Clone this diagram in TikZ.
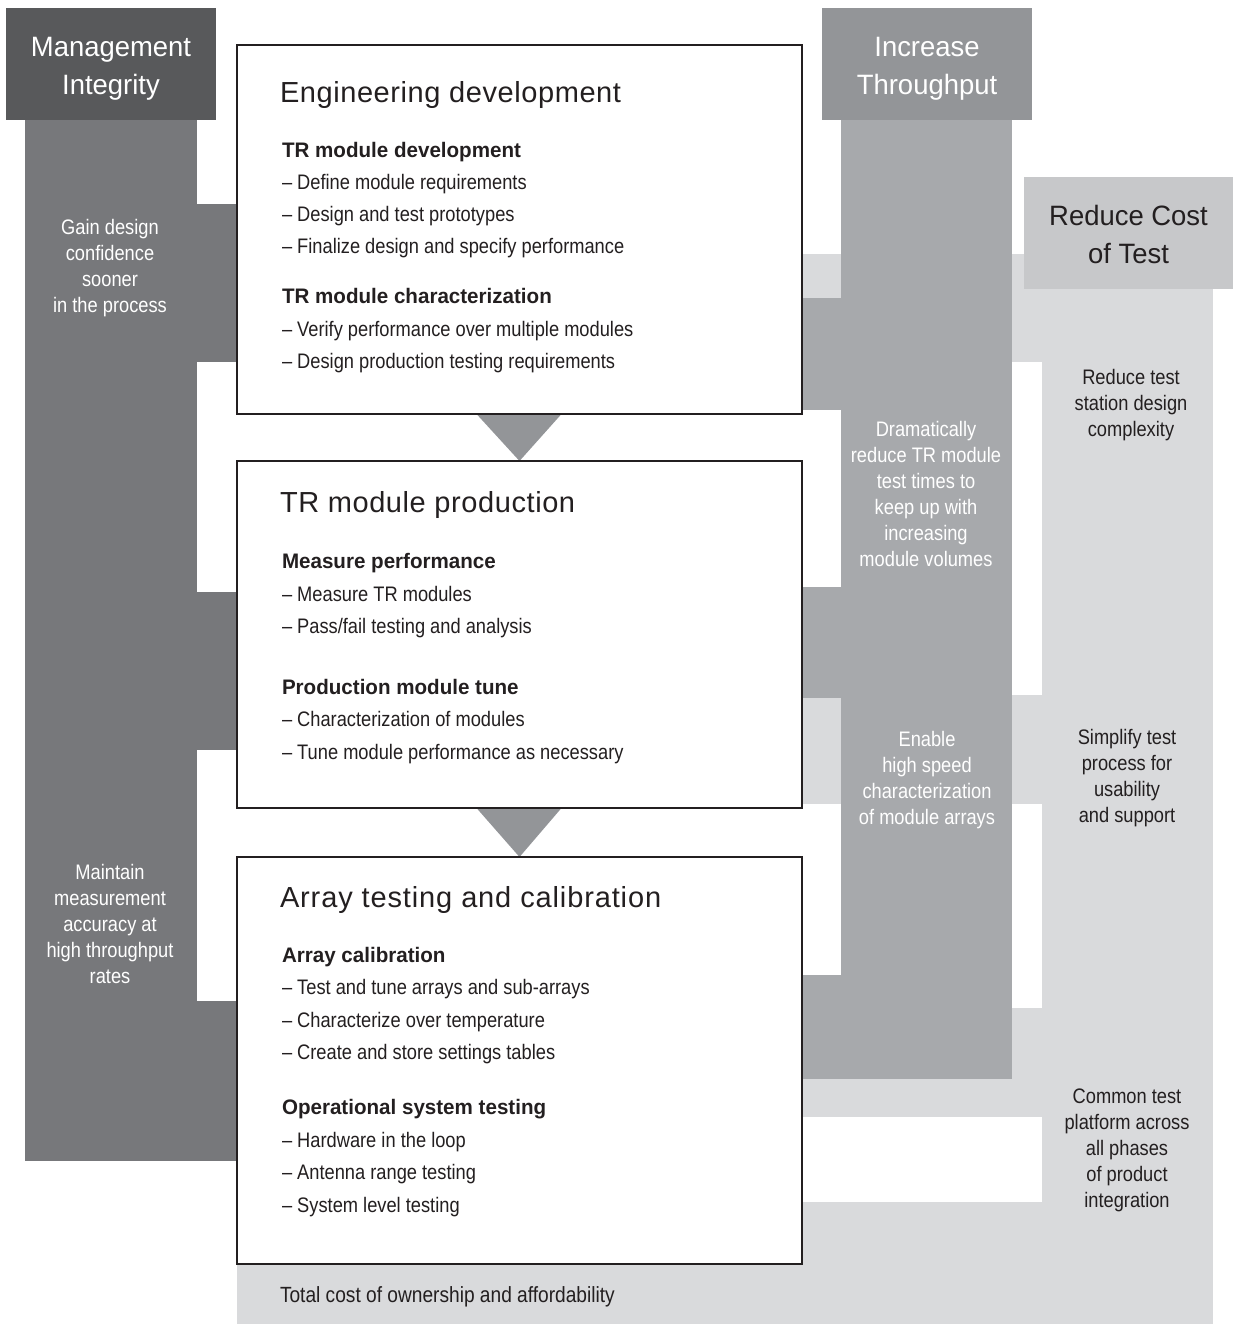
\documentclass[tikz,border=0pt]{standalone}
\usepackage{fontspec}
\setmainfont{Liberation Sans}[FakeStretch=0.87]
\newfontfamily\headfont{Liberation Sans}[FakeStretch=0.98]
\newfontfamily\titlefont{Liberation Sans}[LetterSpace=2]
\newfontfamily\subfont{Liberation Sans}[FakeStretch=0.98]
\definecolor{hdrA}{HTML}{58595B}
\definecolor{colA}{HTML}{77787B}
\definecolor{hdrB}{HTML}{939598}
\definecolor{colB}{HTML}{A7A9AC}
\definecolor{hdrC}{HTML}{C7C8CA}
\definecolor{colC}{HTML}{D9DADC}
\definecolor{ink}{HTML}{231F20}
\newcommand{\topstrut}{\rule{0pt}{28pt}}
\newcommand{\botstrut}{\rule[-6pt]{0pt}{6pt}}
\pgfdeclarelayer{back}
\pgfsetlayers{back,main}
\begin{document}
\begin{tikzpicture}[x=1pt,y=-1pt,
  every node/.style={inner sep=0pt, outer sep=0pt},
  box/.style={draw=ink, line width=1.2pt, fill=white, minimum width=565pt},
  hdr/.style={font=\headfont\fontsize{28}{38}\selectfont, align=center, minimum width=210pt, minimum height=112pt},
  ttl/.style={anchor=base west, font=\titlefont\fontsize{29}{34}\selectfont, text=ink},
  sub/.style={anchor=base west, font=\subfont\bfseries\fontsize{21}{26}\selectfont, text=ink},
  itm/.style={anchor=base west, font=\fontsize{21}{26}\selectfont, text=ink},
  side/.style={align=center, font=\fontsize{21}{26}\selectfont},
  tri/.style={fill=hdrB}]
\useasboundingbox (0,0) rectangle (1233,1325);

% --- Reduce Cost of Test (back) ---
\fill[colC] (1042,289) rectangle (1213,1324);
\fill[colC] (802,254) rectangle (1042,362);
\fill[colC] (802,695) rectangle (1042,804);
\fill[colC] (802,1008) rectangle (1042,1117);
\fill[colC] (237,1202) rectangle (1213,1324);
\node[hdr, fill=hdrC, text=ink] (cost) at (1128.5,233) {\topstrut Reduce Cost\\of Test\botstrut};

% --- Increase Throughput ---
\fill[colB] (841,120) rectangle (1012,1079);
\fill[colB] (802,298) rectangle (841,410);
\fill[colB] (802,587) rectangle (841,698);
\fill[colB] (802,975) rectangle (841,1079);
\node[hdr, fill=hdrB, text=white] (thru) at (927,64) {\topstrut Increase\\Throughput\botstrut};

% --- Management Integrity ---
\fill[colA] (25,120) rectangle (197,1161);
\fill[colA] (197,204) rectangle (237,362);
\fill[colA] (197,592) rectangle (237,750);
\fill[colA] (197,1001) rectangle (237,1161);
\node[hdr, fill=hdrA, text=white] (mgmt) at (111,64) {\topstrut Management\\Integrity\botstrut};

% --- phase boxes ---
\node[box, minimum height=369pt] (b1) at (519.5,229.5) {};
\node[box, minimum height=347pt] (b2) at (519.5,634.5) {};
\node[box, minimum height=407pt] (b3) at (519.5,1060.5) {};

\begin{pgfonlayer}{back}
\fill[tri] ([xshift=-43pt]b1.south) -- ([xshift=42pt]b1.south) -- (b2.north) -- cycle;
\fill[tri] ([xshift=-43pt]b2.south) -- ([xshift=42pt]b2.south) -- (b3.north) -- cycle;
\end{pgfonlayer}

% box 1 text
\node[ttl] (t1) at (280,102) {Engineering development};
\node[sub] (s11) at (282,157) {TR module development};
\node[itm] (i111) at (282,189) {– Define module requirements};
\node[itm] (i112) at (282,221) {– Design and test prototypes};
\node[itm] (i113) at (282,253) {– Finalize design and specify performance};
\node[sub] (s12) at (282,303) {TR module characterization};
\node[itm] (i121) at (282,336) {– Verify performance over multiple modules};
\node[itm] (i122) at (282,368) {– Design production testing requirements};

% box 2 text
\node[ttl] (t2) at (280,512) {TR module production};
\node[sub] (s21) at (282,568) {Measure performance};
\node[itm] (i211) at (282,601) {– Measure TR modules};
\node[itm] (i212) at (282,633) {– Pass/fail testing and analysis};
\node[sub] (s22) at (282,694) {Production module tune};
\node[itm] (i221) at (282,726) {– Characterization of modules};
\node[itm] (i222) at (282,759) {– Tune module performance as necessary};

% box 3 text
\node[ttl, font=\titlefont\addfontfeature{LetterSpace=3}\fontsize{29}{34}\selectfont] (t3) at (280,907) {Array testing and calibration};
\node[sub] (s31) at (282,962) {Array calibration};
\node[itm] (i311) at (282,994) {– Test and tune arrays and sub-arrays};
\node[itm] (i312) at (282,1027) {– Characterize over temperature};
\node[itm] (i313) at (282,1059) {– Create and store settings tables};
\node[sub] (s32) at (282,1114) {Operational system testing};
\node[itm] (i321) at (282,1147) {– Hardware in the loop};
\node[itm] (i322) at (282,1179) {– Antenna range testing};
\node[itm] (i323) at (282,1212) {– System level testing};

\node[itm, font=\fontsize{22}{26}\selectfont] (tco) at (280,1302) {Total cost of ownership and affordability};

% side texts
\node[side, text=white] (gain) at (110,268) {Gain design\\confidence\\sooner\\in the process};
\node[side, text=white] (maint) at (110,924) {Maintain\\measurement\\accuracy at\\high throughput\\rates};
\node[side, text=white] (dram) at (926,494) {Dramatically\\reduce TR module\\test times to\\keep up with\\increasing\\module volumes};
\node[side, text=white] (enab) at (927,780) {Enable\\high speed\\characterization\\of module arrays};
\node[side, text=ink] (rtsd) at (1131,405) {Reduce test\\station design\\complexity};
\node[side, text=ink] (simp) at (1127,778) {Simplify test\\process for\\usability\\and support};
\node[side, text=ink] (comm) at (1127,1150) {Common test\\platform across\\all phases\\of product\\integration};
\end{tikzpicture}
\end{document}
